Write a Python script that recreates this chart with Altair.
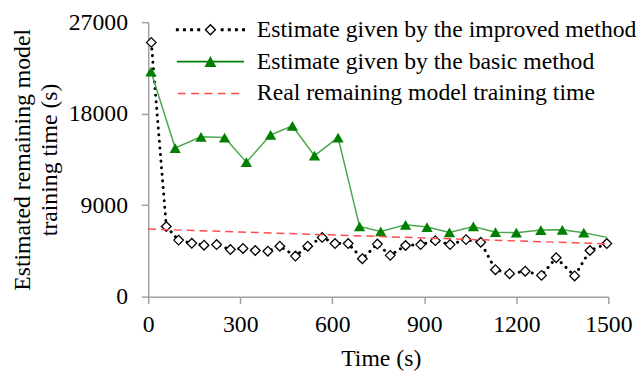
import altair as alt
import pandas as pd

# ---------------- data ----------------
names = [
    "Estimate given by the improved method",
    "Estimate given by the basic method",
    "Real remaining model training time",
]

improved_t = [10, 59, 99, 142, 182, 223, 268, 309, 349, 390, 429, 480, 520, 567, 609, 652,
              698, 747, 789, 839, 888, 936, 984, 1036, 1084, 1132, 1178, 1229, 1282, 1330,
              1390, 1440, 1495]
improved_v = [25010, 6900, 5560, 5250, 5060, 5120, 4630, 4740, 4540, 4470, 4960, 3990, 4960,
              5830, 5220, 5220, 3730, 5170, 4060, 5030, 5120, 5510, 5120, 5610, 5350, 2650,
              2260, 2500, 2090, 3830, 2040, 4540, 5220]

basic_t = [9, 88, 172, 249, 320, 399, 470, 542, 619, 689, 758, 839, 909, 982, 1060, 1132,
           1200, 1280, 1350, 1420, 1496]
basic_v = [22140, 14620, 15720, 15650, 13220, 15920, 16790, 13870, 15650, 6900, 6420, 7070,
           6850, 6320, 6900, 6340, 6290, 6550, 6580, 6290, 5830]

real_t = [0, 1500]
real_v = [6650, 5190]

x_ticks = [0, 300, 600, 900, 1200, 1500]
y_ticks = [0, 9000, 18000, 27000]

df_imp = pd.DataFrame({"t": improved_t, "v": improved_v, "series": names[0]})
df_bas = pd.DataFrame({"t": basic_t, "v": basic_v, "series": names[1]})
df_bas_pts = df_bas.iloc[:-1]          # last point of the basic series has no marker
df_real = pd.DataFrame({"t": real_t, "v": real_v, "series": names[2]})

# ---------------- styles ----------------
FONT = "Liberation Serif"
GRAY = "#a0a0a0"
GREEN_LINE = "#4ca64c"
GREEN_MARK = "#008000"
RED = "#ff4d4d"
LEG_FS = 24

# custom legend symbols (fill-only paths, unit = 6 px at symbol size 144)
U = 6.0


def rect(x1, y1, x2, y2):
    return (f"M{x1/U:.3f},{y1/U:.3f}L{x2/U:.3f},{y1/U:.3f}"
            f"L{x2/U:.3f},{y2/U:.3f}L{x1/U:.3f},{y2/U:.3f}Z")


def diamond_ring(a, b):
    outer = f"M0,{-a/U:.3f}L{a/U:.3f},0L0,{a/U:.3f}L{-a/U:.3f},0Z"
    inner = f"M0,{-b/U:.3f}L{-b/U:.3f},0L0,{b/U:.3f}L{b/U:.3f},0Z"
    return outer + inner


dots = [-33.5, -26.3, -19.1, -11.9, 11.9, 19.1, 26.3, 33.5]
path_improved = "".join(rect(c - 1.5, -1.5, c + 1.5, 1.5) for c in dots) + diamond_ring(6.0, 4.0)
path_basic = rect(-34, -0.8, 34, 0.8) + f"M0,{-5.8/U:.3f}L{6/U:.3f},{5.4/U:.3f}L{-6/U:.3f},{5.4/U:.3f}Z"
path_real = "".join(rect(x, -0.8, x + 8, 0.8) for x in [-33, -19.5, -6, 7.5, 21])


def make_legend():
    return alt.Legend(
        orient="none", legendX=0, legendY=-4.3, title=None, padding=0,
        symbolSize=144, symbolStrokeWidth=0, symbolOpacity=1, symbolOffset=51,
        labelOffset=35, rowPadding=8.3, labelLimit=1000,
        labelFont=FONT, labelFontSize=LEG_FS, labelColor="black",
    )


x_enc = alt.X(
    "t:Q",
    scale=alt.Scale(domain=[0, 1500], nice=False, zero=False),
    title="Time (s)",
    axis=alt.Axis(
        values=x_ticks, format="d", grid=False, labelFlush=False, labelOverlap=False,
        labelFont=FONT, labelFontSize=24, labelColor="black", labelPadding=9,
        tickSize=7, tickColor=GRAY, tickWidth=1.5, domainColor=GRAY, domainWidth=1.5,
        titleFont=FONT, titleFontSize=24, titleFontWeight="normal", titleColor="black",
        titleX=235.5, titleY=70, titleBaseline="alphabetic", titleAlign="center",
    ),
)
y_enc = alt.Y(
    "v:Q",
    scale=alt.Scale(domain=[0, 27000], nice=False),
    title=["Estimated remaining model", "training time (s)"],
    axis=alt.Axis(
        values=y_ticks, format="d", grid=False, labelOverlap=False, labelFlush=False,
        labelFont=FONT, labelFontSize=24, labelColor="black", labelPadding=14,
        tickSize=7, tickColor=GRAY, tickWidth=1.5, domainColor=GRAY, domainWidth=1.5,
        titleFont=FONT, titleFontSize=24, titleFontWeight="normal", titleColor="black",
        titleX=-120, titleY=139, titleAngle=270, titleBaseline="alphabetic",
        titleAlign="center", titleLineHeight=27.5,
    ),
)

imp_line = alt.Chart(df_imp).mark_line(
    color="black", strokeWidth=3, strokeDash=[0.1, 6.6], strokeCap="round"
).encode(x=x_enc, y=y_enc)

imp_pts = alt.Chart(df_imp).mark_point(
    shape="diamond", filled=True, fill="white", stroke="black", strokeWidth=1.3,
    size=95, opacity=1
).encode(x=x_enc, y=y_enc)

bas_line = alt.Chart(df_bas).mark_line(color=GREEN_LINE, strokeWidth=1.5).encode(x=x_enc, y=y_enc)

bas_pts = alt.Chart(df_bas_pts).mark_point(
    shape="triangle-up", filled=True, color=GREEN_MARK, size=130, opacity=1
).encode(x=x_enc, y=y_enc)

real_line = alt.Chart(df_real).mark_line(
    color=RED, strokeWidth=1.5, strokeDash=[8, 5]
).encode(x=x_enc, y=y_enc)

# legend-only layer: zero-size points carrying the series legend
legend_layer = alt.Chart(df_real).mark_point(filled=True, strokeWidth=0).encode(
    x=x_enc, y=y_enc,
    size=alt.value(0),
    color=alt.Color("series:N",
                    scale=alt.Scale(domain=names, range=["black", GREEN_MARK, RED]),
                    legend=make_legend()),
    shape=alt.Shape("series:N",
                    scale=alt.Scale(domain=names,
                                    range=[path_improved, path_basic, path_real]),
                    legend=make_legend()),
)

chart = alt.layer(imp_line, imp_pts, bas_line, bas_pts, real_line, legend_layer).properties(
    width=466, height=278,
    autosize=alt.AutoSizeParams(type="none"),
    padding={"left": 142, "top": 12, "right": 28, "bottom": 75},
    background="white",
).configure(font=FONT).configure_view(stroke=None).configure_legend(
    labelFont=FONT, labelFontSize=LEG_FS, labelColor="black"
)

chart.save("out.html", embed_options={"renderer": "svg", "actions": False})
